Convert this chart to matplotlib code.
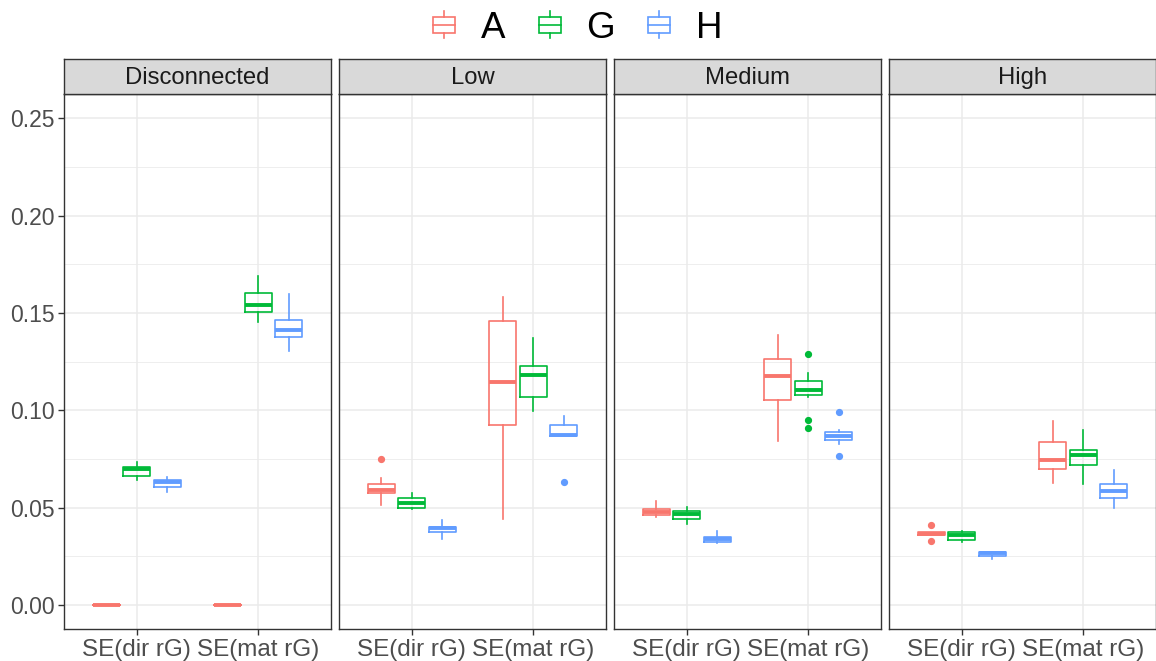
#===============================================================================
# SE of genetic correlations by connectedness level - faceted boxplots
#===============================================================================
import numpy as np
import matplotlib
matplotlib.use("Agg")
import matplotlib.pyplot as plt
from matplotlib.legend_handler import HandlerBase
from matplotlib.patches import Rectangle, Patch
from matplotlib.lines import Line2D

plt.rcParams['font.family'] = ['Liberation Sans', 'DejaVu Sans']

#===============================================================================
# Data
#===============================================================================
panels = ["Disconnected", "Low", "Medium", "High"]
metrics = ["SE(dir rG)", "SE(mat rG)"]
groups = ["A", "G", "H"]
colors = ["#F8766D", "#00BA38", "#619CFF"]

# one row per panel, order: dir A, dir G, dir H, mat A, mat G, mat H
whislo = [[0.0, 0.0643, 0.0578, 0.0, 0.1452, 0.1303],
          [0.0514, 0.0492, 0.0338, 0.0441, 0.0994, 0.0866],
          [0.0451, 0.0417, 0.0317, 0.0840, 0.1070, 0.0828],
          [0.0358, 0.0321, 0.0237, 0.0629, 0.0622, 0.0497]]
q1 = [[0.0, 0.0664, 0.0605, 0.0, 0.1506, 0.1375],
      [0.0573, 0.0497, 0.0374, 0.0924, 0.1069, 0.0866],
      [0.0460, 0.0441, 0.0326, 0.1053, 0.1077, 0.0845],
      [0.0358, 0.0336, 0.0254, 0.0698, 0.0717, 0.0552]]
med = [[0.0, 0.0698, 0.0634, 0.0, 0.1540, 0.1411],
       [0.0592, 0.0523, 0.0394, 0.1144, 0.1182, 0.0875],
       [0.0477, 0.0467, 0.0340, 0.1178, 0.1106, 0.0866],
       [0.0367, 0.0360, 0.0266, 0.0746, 0.0770, 0.0583]]
q3 = [[0.0, 0.0708, 0.0640, 0.0, 0.1603, 0.1466],
      [0.0621, 0.0549, 0.0403, 0.1458, 0.1226, 0.0922],
      [0.0494, 0.0485, 0.0350, 0.1264, 0.1149, 0.0889],
      [0.0374, 0.0374, 0.0273, 0.0837, 0.0794, 0.0621]]
whishi = [[0.0, 0.0737, 0.0657, 0.0, 0.1692, 0.1598],
          [0.0652, 0.0573, 0.0434, 0.1583, 0.1372, 0.0969],
          [0.0535, 0.0504, 0.0381, 0.1385, 0.1193, 0.0897],
          [0.0374, 0.0382, 0.0273, 0.0943, 0.0900, 0.0691]]
fliers = [[[], [], [], [], [], []],
          [[0.0751], [], [], [], [], [0.0633]],
          [[], [], [], [], [0.1291, 0.0950, 0.0910], [0.0991, 0.0766]],
          [[0.0412, 0.0329], [], [], [], [], []]]

#===============================================================================
# Legend key: a small boxplot glyph
#===============================================================================
class BoxKey(HandlerBase):
    def create_artists(self, legend, orig_handle, xdescent, ydescent,
                       width, height, fontsize, trans):
        c = orig_handle.get_edgecolor()
        x0, y0 = -xdescent, -ydescent
        cx = x0 + width / 2
        box = Rectangle((x0, y0 + 0.2 * height), width, 0.6 * height,
                        fill=False, ec=c, lw=1.2, transform=trans)
        mid = Line2D([x0, x0 + width], [y0 + 0.5 * height] * 2,
                     color=c, lw=1.2, transform=trans)
        wlo = Line2D([cx, cx], [y0, y0 + 0.2 * height], color=c, lw=1.2,
                     transform=trans)
        whi = Line2D([cx, cx], [y0 + 0.8 * height, y0 + height], color=c,
                     lw=1.2, transform=trans)
        return [box, mid, wlo, whi]

#===============================================================================
# Plot
#===============================================================================
W, H = 1156, 661
fig = plt.figure(figsize=(W / 100, H / 100), dpi=100)

panel_left = [64, 339, 614, 889]
panel_w = 267
plot_top, plot_bot = 94, 629.3
strip_top = 59.3
offsets = [-0.25, 0.0, 0.25]

for p, panel in enumerate(panels):
    ax = fig.add_axes([panel_left[p] / W, 1 - plot_bot / H,
                       panel_w / W, (plot_bot - plot_top) / H])
    for m in range(len(metrics)):
        for g in range(len(groups)):
            k = m * 3 + g
            st = dict(med=med[p][k], q1=q1[p][k], q3=q3[p][k],
                      whislo=whislo[p][k], whishi=whishi[p][k],
                      fliers=fliers[p][k])
            c = colors[g]
            ax.bxp([st], positions=[m + 1 + offsets[g]], widths=0.225,
                   showcaps=False,
                   boxprops=dict(color=c, lw=1.2),
                   whiskerprops=dict(color=c, lw=1.2),
                   medianprops=dict(color=c, lw=2.8, solid_capstyle='butt'),
                   flierprops=dict(marker='o', mfc=c, mec=c, ms=4.2,
                                   ls='none'))

    ax.set_xlim(0.4, 2.6)
    ax.set_ylim(-0.0125, 0.2625)
    ax.set_xticks([1, 2])
    ax.set_xticklabels(metrics)
    ax.set_yticks(np.arange(0, 0.26, 0.05))
    ax.set_yticks(np.arange(0.025, 0.26, 0.05), minor=True)
    ax.set_yticklabels(["%.2f" % v for v in np.arange(0, 0.26, 0.05)])
    ax.grid(which='major', color='#EBEBEB', lw=1.1)
    ax.grid(which='minor', axis='y', color='#EBEBEB', lw=0.6)
    ax.set_axisbelow(True)
    ax.tick_params(which='minor', length=0)
    ax.tick_params(which='major', length=4, width=1, color='#333333',
                   labelcolor='#4D4D4D', pad=3)
    ax.tick_params(axis='x', labelsize=17.5)
    ax.tick_params(axis='y', labelsize=16.5)
    if p > 0:
        ax.tick_params(axis='y', length=0, labelleft=False)
    for s in ax.spines.values():
        s.set_color('#333333')
        s.set_linewidth(1.0)

    # facet strip
    sax = fig.add_axes([panel_left[p] / W, 1 - plot_top / H,
                        panel_w / W, (plot_top - strip_top) / H])
    sax.set_facecolor('#D9D9D9')
    sax.set_xticks([])
    sax.set_yticks([])
    for s in sax.spines.values():
        s.set_color('#333333')
        s.set_linewidth(1.0)
    sax.text(0.5, 0.45, panel, ha='center', va='center', fontsize=17.2,
             color='#1A1A1A', transform=sax.transAxes)

handles = [Patch(edgecolor=c, facecolor='white') for c in colors]
fig.legend(handles=handles, labels=groups, handler_map={Patch: BoxKey()},
           loc='center', bbox_to_anchor=(0.5, 1 - 28 / H), ncol=3,
           frameon=False, fontsize=26.5, handlelength=0.6, handleheight=0.75,
           handletextpad=0.7, columnspacing=0.9)

fig.savefig("out.png", dpi=100)
